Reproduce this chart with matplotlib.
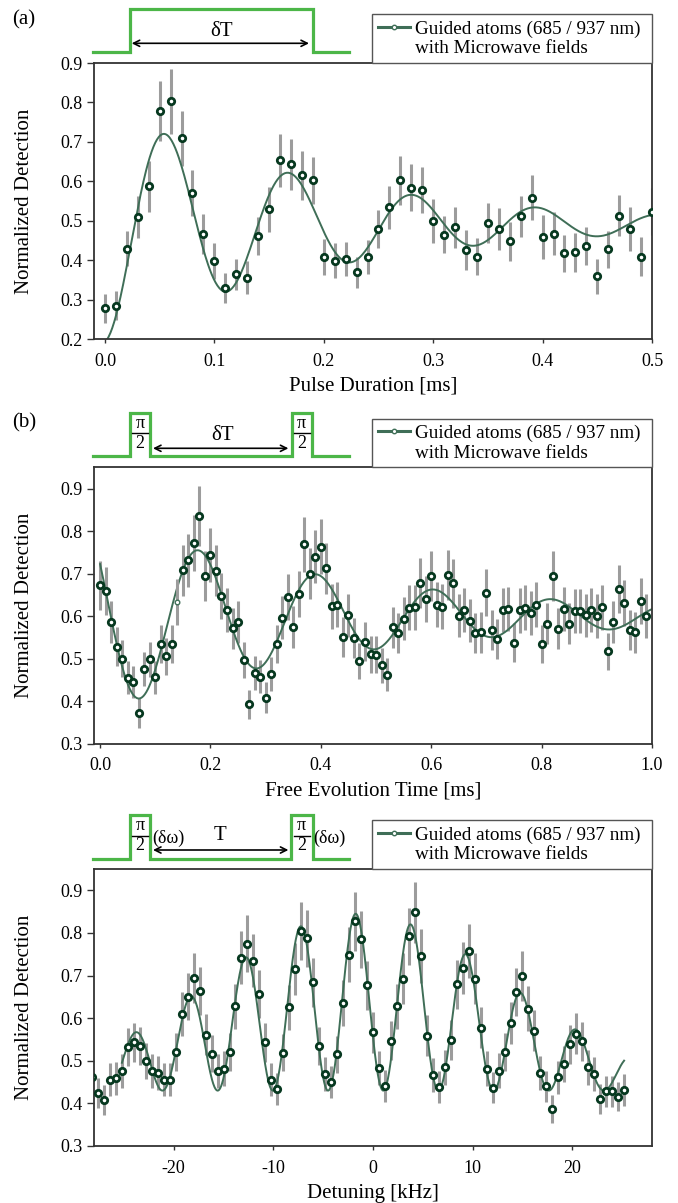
import matplotlib

matplotlib.use("Agg")
import matplotlib.pyplot as plt
import numpy as np
from matplotlib.lines import Line2D

plt.rcParams["font.family"] = ["Liberation Serif", "DejaVu Serif"]
plt.rcParams["axes.unicode_minus"] = False

# ---------------------------------------------------------------- data
# (a) Rabi oscillation vs microwave pulse duration
pulse_ms = np.round(np.arange(0, 0.505, 0.01), 2)
rabi_det = [0.278, 0.284, 0.429, 0.510, 0.587, 0.779, 0.803, 0.709, 0.570, 0.467,
            0.398, 0.329, 0.364, 0.355, 0.461, 0.529, 0.653, 0.643, 0.615, 0.602,
            0.408, 0.399, 0.403, 0.369, 0.408, 0.479, 0.534, 0.602, 0.584, 0.577,
            0.500, 0.465, 0.483, 0.426, 0.409, 0.494, 0.478, 0.448, 0.511, 0.558,
            0.459, 0.467, 0.418, 0.420, 0.435, 0.359, 0.427, 0.513, 0.479, 0.409,
            0.523]
rabi_err = [0.037, 0.037, 0.044, 0.053, 0.064, 0.076, 0.082, 0.070, 0.058, 0.051,
            0.046, 0.038, 0.039, 0.042, 0.048, 0.057, 0.067, 0.065, 0.062, 0.060,
            0.046, 0.044, 0.044, 0.040, 0.043, 0.049, 0.054, 0.062, 0.059, 0.058,
            0.056, 0.048, 0.052, 0.050, 0.046, 0.050, 0.053, 0.050, 0.052, 0.057,
            0.056, 0.054, 0.047, 0.049, 0.048, 0.045, 0.048, 0.053, 0.055, 0.050,
            0.060]
# damped cosine fit: y0 - A exp(-t/tau) cos(2 pi (t - t0) / P)
rabi_fit = dict(y0=0.492, amp=0.30, tau=0.20, period=0.113, t0=-0.001)

# (b) Ramsey fringes vs free evolution time
ramsey_ms = np.round(np.arange(0, 0.995, 0.01), 2)
ramsey_det = [0.672, 0.659, 0.586, 0.528, 0.500, 0.455, 0.444, 0.372, 0.475, 0.498,
              0.456, 0.534, 0.505, 0.534, 0.633, 0.708, 0.731, 0.772, 0.835, 0.694,
              0.744, 0.706, 0.647, 0.615, 0.571, 0.586, 0.496, 0.392, 0.465, 0.457,
              0.408, 0.464, 0.535, 0.596, 0.645, 0.574, 0.652, 0.769, 0.700, 0.740,
              0.763, 0.712, 0.623, 0.626, 0.551, 0.602, 0.549, 0.494, 0.539, 0.510,
              0.509, 0.484, 0.462, 0.573, 0.560, 0.594, 0.619, 0.621, 0.678, 0.641,
              0.694, 0.627, 0.622, 0.696, 0.677, 0.601, 0.614, 0.589, 0.560, 0.562,
              0.655, 0.567, 0.546, 0.614, 0.616, 0.537, 0.613, 0.619, 0.608, 0.626,
              0.535, 0.582, 0.695, 0.570, 0.616, 0.582, 0.611, 0.611, 0.602, 0.615,
              0.600, 0.621, 0.517, 0.586, 0.664, 0.630, 0.567, 0.562, 0.636, 0.600]
ramsey_err = [0.057, 0.056, 0.050, 0.045, 0.043, 0.039, 0.038, 0.035, 0.040, 0.042,
              0.039, 0.045, 0.043, 0.045, 0.054, 0.060, 0.062, 0.066, 0.071, 0.059,
              0.063, 0.060, 0.055, 0.052, 0.049, 0.050, 0.042, 0.035, 0.040, 0.039,
              0.036, 0.040, 0.045, 0.051, 0.055, 0.049, 0.055, 0.065, 0.060, 0.063,
              0.065, 0.061, 0.053, 0.053, 0.047, 0.051, 0.047, 0.042, 0.046, 0.043,
              0.043, 0.041, 0.039, 0.049, 0.048, 0.050, 0.053, 0.053, 0.058, 0.054,
              0.059, 0.053, 0.053, 0.059, 0.058, 0.051, 0.052, 0.050, 0.048, 0.048,
              0.056, 0.048, 0.046, 0.052, 0.052, 0.046, 0.052, 0.053, 0.052, 0.053,
              0.045, 0.049, 0.059, 0.048, 0.052, 0.049, 0.052, 0.052, 0.051, 0.052,
              0.051, 0.053, 0.044, 0.050, 0.056, 0.054, 0.048, 0.048, 0.054, 0.051]
ramsey_faint = 14  # point recorded with the reduced marker
# y0 + A exp(-t/tau) cos(2 pi t / P + phi)
ramsey_fit = dict(y0=0.60, amp=0.226, tau=0.47, period=0.213, phi=1.0)

# (c) Ramsey fringes vs microwave detuning
detuning_khz = np.round(np.arange(-28.2, 25.5, 0.6), 1)
fringe_det = [0.462, 0.424, 0.407, 0.456, 0.459, 0.475, 0.532, 0.543, 0.534, 0.499,
              0.475, 0.471, 0.456, 0.456, 0.520, 0.610, 0.650, 0.695, 0.663, 0.561,
              0.517, 0.475, 0.481, 0.520, 0.628, 0.742, 0.775, 0.735, 0.657, 0.543,
              0.456, 0.434, 0.519, 0.625, 0.715, 0.805, 0.787, 0.684, 0.535, 0.470,
              0.450, 0.515, 0.636, 0.749, 0.827, 0.785, 0.677, 0.567, 0.483, 0.441,
              0.547, 0.628, 0.693, 0.792, 0.848, 0.746, 0.559, 0.466, 0.439, 0.485,
              0.549, 0.679, 0.718, 0.758, 0.693, 0.578, 0.481, 0.437, 0.477, 0.520,
              0.589, 0.662, 0.699, 0.622, 0.571, 0.471, 0.440, 0.387, 0.461, 0.492,
              0.539, 0.563, 0.546, 0.485, 0.468, 0.411, 0.428, 0.428, 0.416, 0.431]
fringe_err = [0.039, 0.036, 0.035, 0.039, 0.039, 0.040, 0.045, 0.046, 0.045, 0.042,
              0.040, 0.040, 0.039, 0.039, 0.044, 0.052, 0.055, 0.059, 0.056, 0.048,
              0.044, 0.040, 0.041, 0.044, 0.053, 0.063, 0.066, 0.062, 0.056, 0.046,
              0.039, 0.037, 0.044, 0.053, 0.061, 0.068, 0.067, 0.058, 0.045, 0.040,
              0.038, 0.044, 0.054, 0.064, 0.070, 0.067, 0.058, 0.048, 0.041, 0.037,
              0.046, 0.053, 0.059, 0.067, 0.072, 0.063, 0.048, 0.040, 0.037, 0.041,
              0.047, 0.058, 0.061, 0.064, 0.059, 0.049, 0.041, 0.037, 0.041, 0.044,
              0.050, 0.056, 0.059, 0.053, 0.049, 0.040, 0.037, 0.033, 0.039, 0.042,
              0.046, 0.048, 0.046, 0.041, 0.040, 0.035, 0.036, 0.036, 0.035, 0.037]
# base + A exp(-(d - dc)^2 / 2 sigma^2) (1 + cos(2 pi (d - d0) / P)) / 2
fringe_fit = dict(base=0.43, amp=0.415, center=-1.5, sigma=15.0, period=5.54,
                  d0=-1.74, start=-25.2, stop=25.2)

legend_lines = ["Guided atoms (685 / 937 nm)", "with Microwave fields"]

# ---------------------------------------------------------------- style
DOT = "#06381f"
FIT = "#3f6e57"
BAR = "#9c9c9c"
PULSE = "#4cb648"
SPINE = "#333333"
W, H = 678, 1203


def rabi_model(t, y0, amp, tau, period, t0):
    return y0 - amp * np.exp(-t / tau) * np.cos(2 * np.pi * (t - t0) / period)


def ramsey_model(t, y0, amp, tau, period, phi):
    return y0 + amp * np.exp(-t / tau) * np.cos(2 * np.pi * t / period + phi)


def fringe_model(d, base, amp, center, sigma, period, d0):
    env = np.exp(-((d - center) ** 2) / (2 * sigma ** 2))
    return base + amp * env * (1 + np.cos(2 * np.pi * (d - d0) / period)) / 2


def px_rect(left, top, right, bottom):
    return [left / W, 1 - bottom / H, (right - left) / W, (bottom - top) / H]


def draw_panel(ax, x, y, err, fit_x, fit_y, xlim, ylim, xticks, yticks, xfmt, xlabel):
    ax.errorbar(x, y, yerr=err, fmt="none", ecolor=BAR, elinewidth=2.2,
                capsize=0, zorder=1)
    ax.plot(fit_x, fit_y, color=FIT, lw=1.4, zorder=2)
    ax.plot(x, y, ls="none", marker="o", ms=4.6, mew=2.0, mfc="white",
            mec=DOT, zorder=3)
    ax.set_xlim(*xlim)
    ax.set_ylim(*ylim)
    ax.set_xticks(xticks)
    ax.set_xticklabels([xfmt.format(v) for v in xticks])
    ax.set_yticks(yticks)
    ax.set_yticklabels([f"{v:.1f}" for v in yticks])
    ax.tick_params(axis="x", length=3, width=1, pad=7, labelsize=13, color=SPINE)
    ax.tick_params(axis="y", length=5, width=1, pad=3, labelsize=13, color=SPINE)
    for sp in ax.spines.values():
        sp.set_color(SPINE)
        sp.set_linewidth(1.3)
    ax.set_xlabel(xlabel, fontsize=15)
    ax.set_ylabel("Normalized Detection", fontsize=15)
    ax.xaxis.set_label_coords(0.5, -0.137)
    ax.yaxis.set_label_coords(-0.107, 0.5)

    handles = [Line2D([], [], color=FIT, lw=2.2, marker="o", ms=3.2,
                      mfc="white", mec=FIT, mew=1.0),
               Line2D([], [], color="none")]
    leg = ax.legend(handles, legend_lines, loc="lower left",
                    bbox_to_anchor=(0.498, 1.0, 0.502, 0.2), mode="expand",
                    borderaxespad=0, fancybox=False, framealpha=1,
                    edgecolor="#555555", fontsize=13.8, handlelength=1.7,
                    handletextpad=0.25, labelspacing=0.12, borderpad=0.3)
    leg.get_frame().set_linewidth(1.0)


fig = plt.figure(figsize=(W / 100, H / 100), dpi=100)

ax_a = fig.add_axes(px_rect(94, 63, 652, 339))
t_a = np.linspace(0, 0.5, 600)
draw_panel(ax_a, pulse_ms, rabi_det, rabi_err, t_a, rabi_model(t_a, **rabi_fit),
           (-0.01, 0.5), (0.2, 0.9), [0, 0.1, 0.2, 0.3, 0.4, 0.5],
           np.arange(0.2, 0.95, 0.1), "{:.1f}", "Pulse Duration [ms]")

ax_b = fig.add_axes(px_rect(94, 467.3, 652, 743.5))
t_b = np.linspace(0, 1.0, 800)
main = np.arange(len(ramsey_det)) != ramsey_faint
draw_panel(ax_b, ramsey_ms[main], np.array(ramsey_det)[main],
           np.array(ramsey_err)[main], t_b, ramsey_model(t_b, **ramsey_fit),
           (-0.011, 1.0), (0.3, 0.95), [0, 0.2, 0.4, 0.6, 0.8, 1.0],
           np.arange(0.3, 0.95, 0.1), "{:.1f}", "Free Evolution Time [ms]")
ax_b.errorbar(ramsey_ms[ramsey_faint], ramsey_det[ramsey_faint],
              yerr=ramsey_err[ramsey_faint], fmt="o", ms=3.3, mew=1.0,
              mfc="white", mec=FIT, ecolor=BAR, elinewidth=2.2, capsize=0,
              zorder=3)

ax_c = fig.add_axes(px_rect(94, 869, 652, 1146))
fit_c = {k: v for k, v in fringe_fit.items() if k not in ("start", "stop")}
d_c = np.linspace(fringe_fit["start"], fringe_fit["stop"], 1200)
draw_panel(ax_c, detuning_khz, fringe_det, fringe_err, d_c,
           fringe_model(d_c, **fit_c), (-28, 28), (0.3, 0.95),
           [-20, -10, 0, 10, 20], np.arange(0.3, 0.95, 0.1), "{:d}",
           "Detuning [kHz]")

# pulse-sequence sketches above each panel, in pixel coordinates
ov = fig.add_axes([0, 0, 1, 1], zorder=-1)
ov.set_xlim(0, W)
ov.set_ylim(H, 0)
ov.axis("off")


def pulse_line(xs, base, top):
    px, py = [92.8], [base]
    for rise, fall in xs:
        px += [rise, rise, fall, fall]
        py += [base, top, top, base]
    px.append(348.9)
    py.append(base)
    ov.plot(px, py, color=PULSE, lw=2.3, solid_joinstyle="miter")


def arrow(x0, x1, y):
    ov.annotate("", xy=(x1, y), xytext=(x0, y),
                arrowprops=dict(arrowstyle="<->", lw=1.2, color="black",
                                shrinkA=0, shrinkB=0, mutation_scale=11))


def half_pi(xc, bar_y):
    ov.text(xc, bar_y - 1.5, "π", ha="center", va="bottom", fontsize=13)
    ov.text(xc, bar_y + 1.5, "2", ha="center", va="top", fontsize=13)
    ov.plot([xc - 8, xc + 8], [bar_y, bar_y], color="black", lw=1.0)


# (a) single pulse of length dT
pulse_line([(129.5, 312.6)], 52.3, 9.3)
arrow(131.7, 309.0, 43.3)
ov.text(222, 31.7, "δT", ha="center", va="center", fontsize=15)
ov.text(23.7, 20, "(a)", ha="center", va="center", fontsize=15)

# (b) pi/2 - dT - pi/2
pulse_line([(129.5, 150.3), (291.5, 311.7)], 456, 412.7)
half_pi(140, 433.3)
half_pi(301.6, 433.3)
arrow(153, 288.4, 448.3)
ov.text(222.4, 435, "δT", ha="center", va="center", fontsize=15)
ov.text(23.7, 423, "(b)", ha="center", va="center", fontsize=15)

# (c) detuned pi/2 - T - pi/2
pulse_line([(129.5, 150.3), (290.6, 312.6)], 859.3, 815)
half_pi(139.9, 836)
half_pi(301.6, 836)
ov.text(168, 838, "(δω)", ha="center", va="center", fontsize=13)
ov.text(329.5, 838, "(δω)", ha="center", va="center", fontsize=13)
arrow(153, 288.4, 850)
ov.text(220, 835, "T", ha="center", va="center", fontsize=15)

fig.savefig("out.png", dpi=100)
